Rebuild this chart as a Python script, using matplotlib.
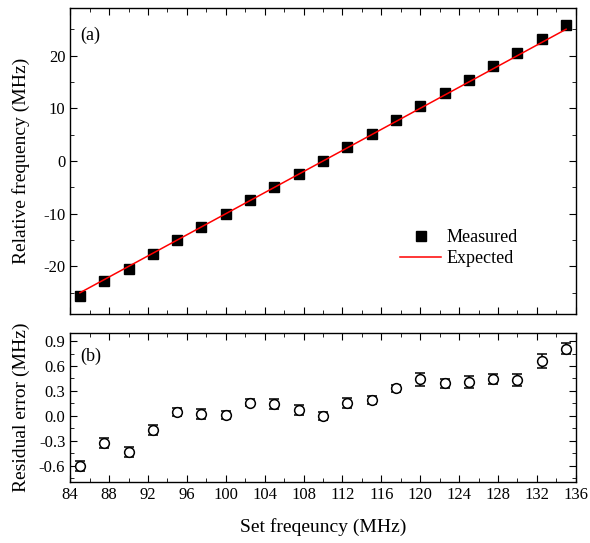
import matplotlib
matplotlib.use('Agg')
import matplotlib.pyplot as plt
from matplotlib.ticker import MultipleLocator

plt.rcParams['font.family'] = ['Liberation Serif', 'DejaVu Serif']
plt.rcParams['axes.unicode_minus'] = False

# set frequency (MHz)
set_freq = [85, 87.5, 90, 92.5, 95, 97.5, 100, 102.5, 105, 107.5, 110,
            112.5, 115, 117.5, 120, 122.5, 125, 127.5, 130, 132.5, 135]
# residual error (MHz) = measured - expected
residual = [-0.60, -0.33, -0.44, -0.17, 0.05, 0.02, 0.01, 0.16, 0.14, 0.07, 0.00,
            0.15, 0.19, 0.33, 0.44, 0.39, 0.41, 0.44, 0.43, 0.66, 0.81]
res_err = [0.06, 0.06, 0.06, 0.06, 0.05, 0.06, 0.05, 0.04, 0.06, 0.06, 0.05,
           0.06, 0.05, 0.04, 0.08, 0.05, 0.07, 0.06, 0.07, 0.08, 0.07]
center = 110.0

expected = [f - center for f in set_freq]
measured = [e + r for e, r in zip(expected, residual)]

fig = plt.figure(figsize=(5.9, 5.43), dpi=100)
ax1 = fig.add_axes([0.119, 0.422, 0.857, 0.563])
ax2 = fig.add_axes([0.119, 0.112, 0.857, 0.275])

# (a) measured vs expected
ax1.plot(set_freq, measured, 's', color='black', ms=7, label='Measured', zorder=3)
ax1.plot([set_freq[0], set_freq[-1]], [expected[0], expected[-1]], color='red', lw=1.1,
         label='Expected', zorder=4)
ax1.set_xlim(84, 136)
ax1.set_ylim(-29, 29)
ax1.yaxis.set_major_locator(MultipleLocator(10))
ax1.yaxis.set_minor_locator(MultipleLocator(5))
ax1.xaxis.set_major_locator(MultipleLocator(4))
ax1.xaxis.set_minor_locator(MultipleLocator(2))
ax1.tick_params(labelbottom=False)
ax1.set_ylabel('Relative frequency (MHz)', fontsize=14)
ax1.text(0.02, 0.94, '(a)', transform=ax1.transAxes, fontsize=13, va='top')
ax1.legend(loc='lower right', bbox_to_anchor=(0.90, 0.13), frameon=False,
           fontsize=13, handlelength=2.3, handletextpad=0.3, borderaxespad=0,
           labelspacing=0.2)

# (b) residual error
ax2.errorbar(set_freq, residual, yerr=res_err, fmt='o', mfc='white', mec='black',
             ecolor='black', ms=7, mew=1.1, capsize=3.5, elinewidth=1.1, capthick=1.1)
ax2.set_xlim(84, 136)
ax2.set_ylim(-0.8, 1.0)
ax2.yaxis.set_minor_locator(MultipleLocator(0.15))
ax2.xaxis.set_major_locator(MultipleLocator(4))
ax2.xaxis.set_minor_locator(MultipleLocator(2))
ax2.set_yticks([-0.6, -0.3, 0.0, 0.3, 0.6, 0.9])
ax2.set_yticklabels(['-0.6', '-0.3', '0.0', '0.3', '0.6', '0.9'])
ax2.set_ylabel('Residual error (MHz)', fontsize=14)
ax2.set_xlabel('Set freqeuncy (MHz)', fontsize=14, labelpad=11)
ax2.text(0.02, 0.9, '(b)', transform=ax2.transAxes, fontsize=13, va='top')

for ax in (ax1, ax2):
    ax.tick_params(which='both', direction='in', top=True, right=True, labelsize=12)
    ax.tick_params(which='major', length=5)
    ax.tick_params(which='minor', length=3)
    for s in ax.spines.values():
        s.set_linewidth(1.0)
    ax.yaxis.set_label_coords(-0.08, 0.5)

fig.savefig('out.png', dpi=100)
